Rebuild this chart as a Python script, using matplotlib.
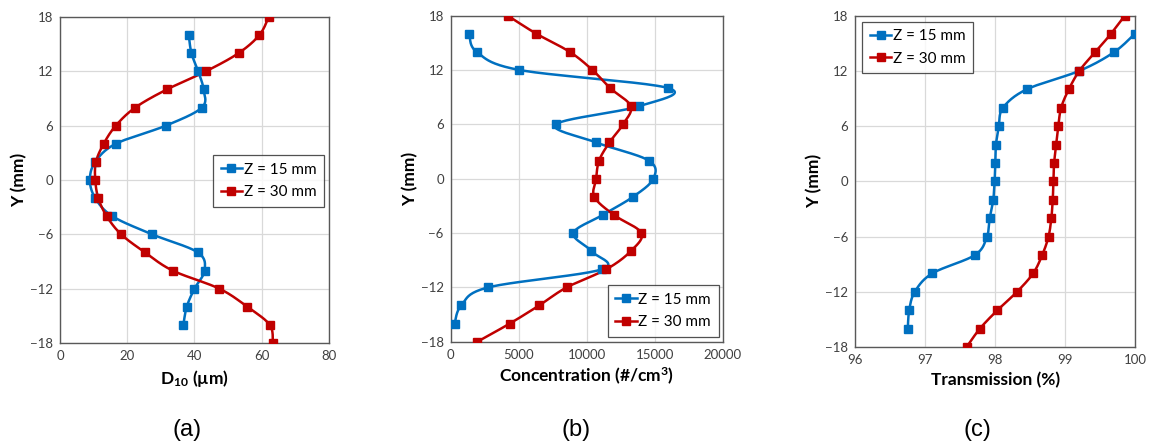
import numpy as np
import matplotlib.pyplot as plt

plt.rcParams['font.family'] = ['Lato', 'DejaVu Sans']
plt.rcParams['mathtext.fontset'] = 'custom'
plt.rcParams['mathtext.bf'] = 'Lato:bold'
plt.rcParams['mathtext.rm'] = 'Lato'
plt.rcParams['mathtext.default'] = 'bf'

# data
y15 = [16, 14, 12, 10, 8, 6, 4, 2, 0, -2, -4, -6, -8, -10, -12, -14, -16]
y30 = [18, 16, 14, 12, 10, 8, 6, 4, 2, 0, -2, -4, -6, -8, -10, -12, -14, -16, -18]

d10_15 = [38.3, 39.1, 41.1, 42.7, 42.2, 31.5, 16.6, 10.5, 8.9, 10.5, 15.6, 27.4,
          41.0, 43.0, 40.0, 37.7, 36.7]
d10_30 = [62.1, 59.3, 53.1, 43.4, 31.8, 22.4, 16.6, 13.0, 10.7, 10.5, 11.4, 13.9,
          18.2, 25.3, 33.5, 47.4, 55.7, 62.4, 63.3]

conc_15 = [1370, 1910, 5050, 16000, 13850, 7720, 10690, 14560, 14900, 13410, 11180,
           9020, 10340, 11130, 2770, 780, 290]
conc_30 = [4190, 6300, 8750, 10420, 11720, 13240, 12670, 11670, 10910, 10690, 10560,
           11990, 14020, 13240, 11450, 8530, 6500, 4340, 1960]

tr_15 = [99.99, 99.69, 99.20, 98.45, 98.11, 98.05, 98.01, 98.00, 97.99, 97.97, 97.92,
         97.88, 97.71, 97.10, 96.85, 96.77, 96.75]
tr_30 = [99.85, 99.65, 99.42, 99.20, 99.05, 98.94, 98.90, 98.87, 98.84, 98.83, 98.82,
         98.80, 98.76, 98.67, 98.54, 98.31, 98.03, 97.78, 97.59]

blue = '#0070C0'
red = '#C00000'


def smooth(x, y, n=24):
    # excel-like smoothed line through the points (bezier, tension 1/6)
    p = np.column_stack([x, y]).astype(float)
    p = np.vstack([p[0], p, p[-1]])
    out = []
    t = np.linspace(0, 1, n)[:, None]
    for i in range(1, len(p) - 2):
        p0, p1, p2, p3 = p[i - 1], p[i], p[i + 1], p[i + 2]
        c1 = p1 + (p2 - p0) / 6
        c2 = p2 - (p3 - p1) / 6
        seg = ((1 - t) ** 3) * p1 + 3 * ((1 - t) ** 2) * t * c1 + 3 * (1 - t) * t ** 2 * c2 + t ** 3 * p2
        out.append(seg)
    s = np.vstack(out)
    return s[:, 0], s[:, 1]


fig = plt.figure(figsize=(11.51, 4.43), dpi=100)
axes = [fig.add_axes([0.0521, 0.2257, 0.2337, 0.736]),
        fig.add_axes([0.3916, 0.2287, 0.2363, 0.736]),
        fig.add_axes([0.7431, 0.2167, 0.2433, 0.748])]

series = [(d10_15, d10_30), (conc_15, conc_30), (tr_15, tr_30)]
xlims = [(0, 80), (0, 20000), (96, 100)]
xticks = [np.arange(0, 81, 20), np.arange(0, 20001, 5000), np.arange(96, 101, 1)]
xlabels = [r'D$_{10}$ (µm)', r'Concentration (#/cm$^{3}$)', 'Transmission (%)']
# legend anchor corners, axes fraction
leg_loc = ['upper right', 'upper right', 'upper left']
leg_pos = [(0.981, 0.577), (0.985, 0.174), (0.025, 0.982)]
panel = ['(a)', '(b)', '(c)']
panel_x = [187, 576, 977]

for ax, (s15, s30), xl, xt, lab, ll, lp, pl, px in zip(axes, series, xlims, xticks, xlabels,
                                                     leg_loc, leg_pos, panel, panel_x):
    for xs, ys, c, name in [(s15, y15, blue, 'Z = 15 mm'), (s30, y30, red, 'Z = 30 mm')]:
        sx, sy = smooth(xs, ys)
        ax.plot(sx, sy, color=c, lw=1.8, zorder=3)
        ax.plot(xs, ys, 's', color=c, ms=6, zorder=4)
        ax.plot([], [], '-s', color=c, lw=1.8, ms=6, label=name)
    ax.set_xlim(*xl)
    ax.set_ylim(-18, 18)
    ax.set_xticks(xt)
    ax.set_yticks(np.arange(-18, 19, 6))
    ax.grid(True, color='#D9D9D9', lw=0.9)
    ax.set_axisbelow(True)
    ax.tick_params(length=0, labelsize=9.5, colors='#404040', pad=5)
    for sp in ax.spines.values():
        sp.set_color('#595959')
        sp.set_linewidth(1.0)
    ax.set_xlabel(lab, fontsize=12.5, fontweight='bold', labelpad=4)
    ax.set_ylabel('Y (mm)', fontsize=12.5, fontweight='bold', labelpad=2)
    leg = ax.legend(loc=ll, bbox_to_anchor=lp, fontsize=11,
                    frameon=True, fancybox=False, handlelength=1.4, handletextpad=0.1,
                    borderaxespad=0, borderpad=0.5, labelspacing=0.55)
    leg.get_frame().set_edgecolor('#262626')
    leg.get_frame().set_linewidth(0.9)
    fig.text(px / 1151, 1 - 430 / 443, pl, fontsize=17, family='Liberation Sans',
             ha='center', va='center')

fig.savefig('out.png', dpi=100)
